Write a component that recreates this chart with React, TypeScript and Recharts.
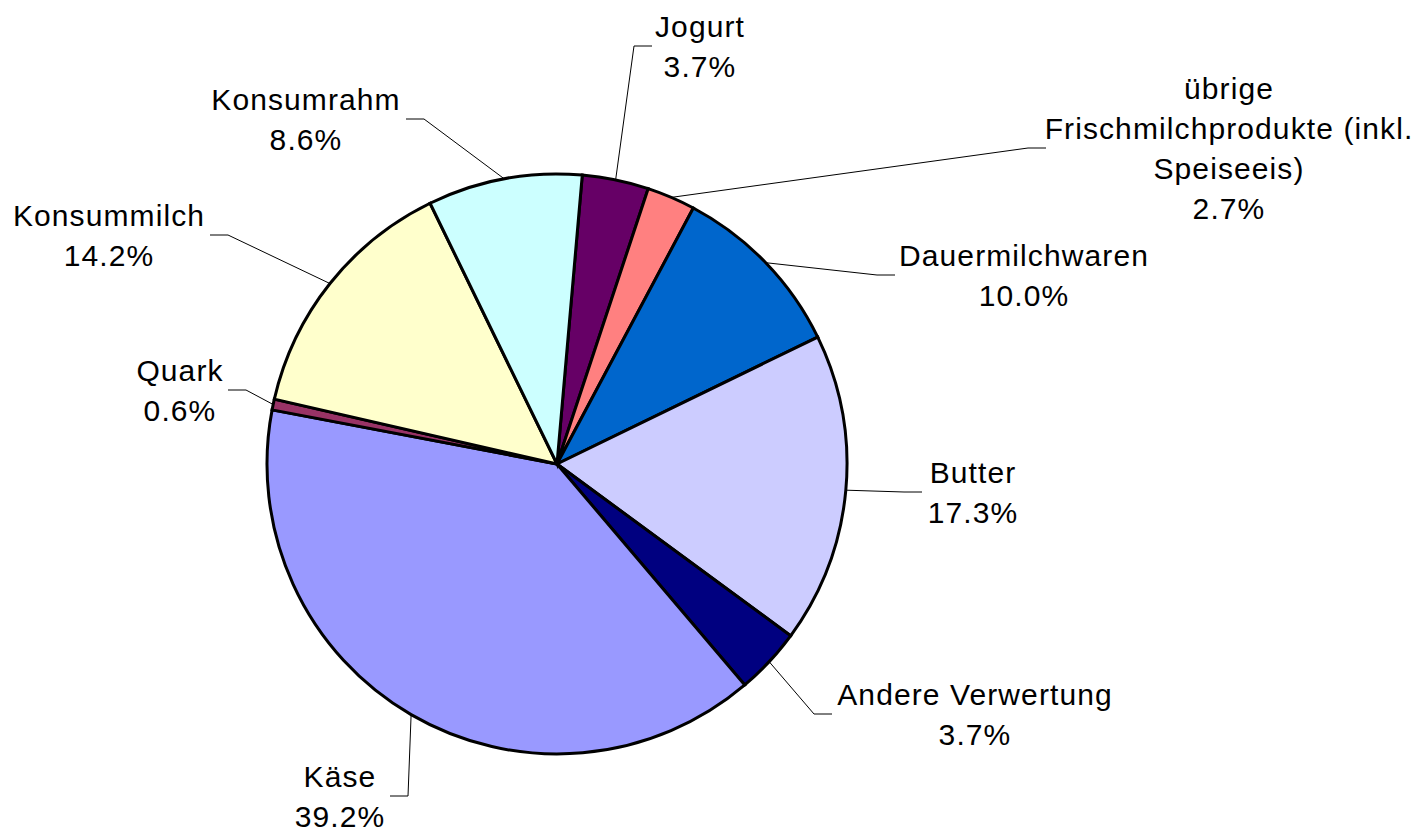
import { PieChart, Pie, Cell } from 'recharts'

const NAMES = [
  'Jogurt',
  'übrige\nFrischmilchprodukte (inkl.\nSpeiseeis)',
  'Dauermilchwaren',
  'Butter',
  'Andere Verwertung',
  'Käse',
  'Quark',
  'Konsummilch',
  'Konsumrahm',
]
const SHARES = [3.7, 2.7, 10.0, 17.3, 3.7, 39.2, 0.6, 14.2, 8.6]
const COLORS = ['#660066', '#FF8080', '#0066CC', '#CCCCFF', '#000080', '#9999FF', '#993366', '#FFFFCC', '#CCFFFF']

// where each label sits: text centre x, block centre y, x where the leader line ends
const LABEL_POS = [
  { tx: 700, ty: 46, lx: 652 },
  { tx: 1229, ty: 148, lx: 1046 },
  { tx: 1024, ty: 275, lx: 895 },
  { tx: 973, ty: 492, lx: 922 },
  { tx: 975, ty: 714, lx: 832 },
  { tx: 340, ty: 796, lx: 390 },
  { tx: 180, ty: 390, lx: 228 },
  { tx: 109, ty: 235, lx: 210 },
  { tx: 306, ty: 119, lx: 406 },
]

const RAD = Math.PI / 180
const LINE_H = 40

function renderLabel(props: any) {
  const { cx, cy, midAngle, outerRadius, index } = props
  const pos = LABEL_POS[index]
  const sx = cx + outerRadius * Math.cos(-midAngle * RAD)
  const sy = cy + outerRadius * Math.sin(-midAngle * RAD)
  const bx = pos.lx + (pos.lx < pos.tx ? -18 : 18)
  const lines = [...NAMES[index].split('\n'), SHARES[index].toFixed(1) + '%']
  const first = pos.ty - ((lines.length - 1) * LINE_H) / 2 + 10.5
  return (
    <g key={`lbl-${index}`}>
      <polyline
        points={`${sx},${sy} ${bx},${pos.ty} ${pos.lx},${pos.ty}`}
        fill="none"
        stroke="#000"
        strokeWidth={1}
      />
      <text
        textAnchor="middle"
        fill="#000"
        style={{ fontFamily: '"Liberation Sans", Arial, sans-serif', fontSize: 30, letterSpacing: 1.1 }}
      >
        {lines.map((l, i) => (
          <tspan key={i} x={pos.tx} y={first + i * LINE_H}>{l}</tspan>
        ))}
      </text>
    </g>
  )
}

const data = NAMES.map((name, i) => ({ name, value: SHARES[i] }))

export default function App() {
  return (
    <div style={{ position: 'absolute', left: 0, top: 0, background: '#fff' }}>
      <PieChart width={1418} height={830} margin={{ top: 0, right: 0, bottom: 0, left: 0 }}>
        <Pie
          data={data}
          dataKey="value"
          nameKey="name"
          cx={557}
          cy={464}
          outerRadius={290}
          startAngle={85}
          endAngle={-275}
          stroke="#000"
          strokeWidth={3}
          label={renderLabel}
          labelLine={false}
          isAnimationActive={false}
        >
          {data.map((d, i) => (
            <Cell key={d.name} fill={COLORS[i]} />
          ))}
        </Pie>
      </PieChart>
    </div>
  )
}
